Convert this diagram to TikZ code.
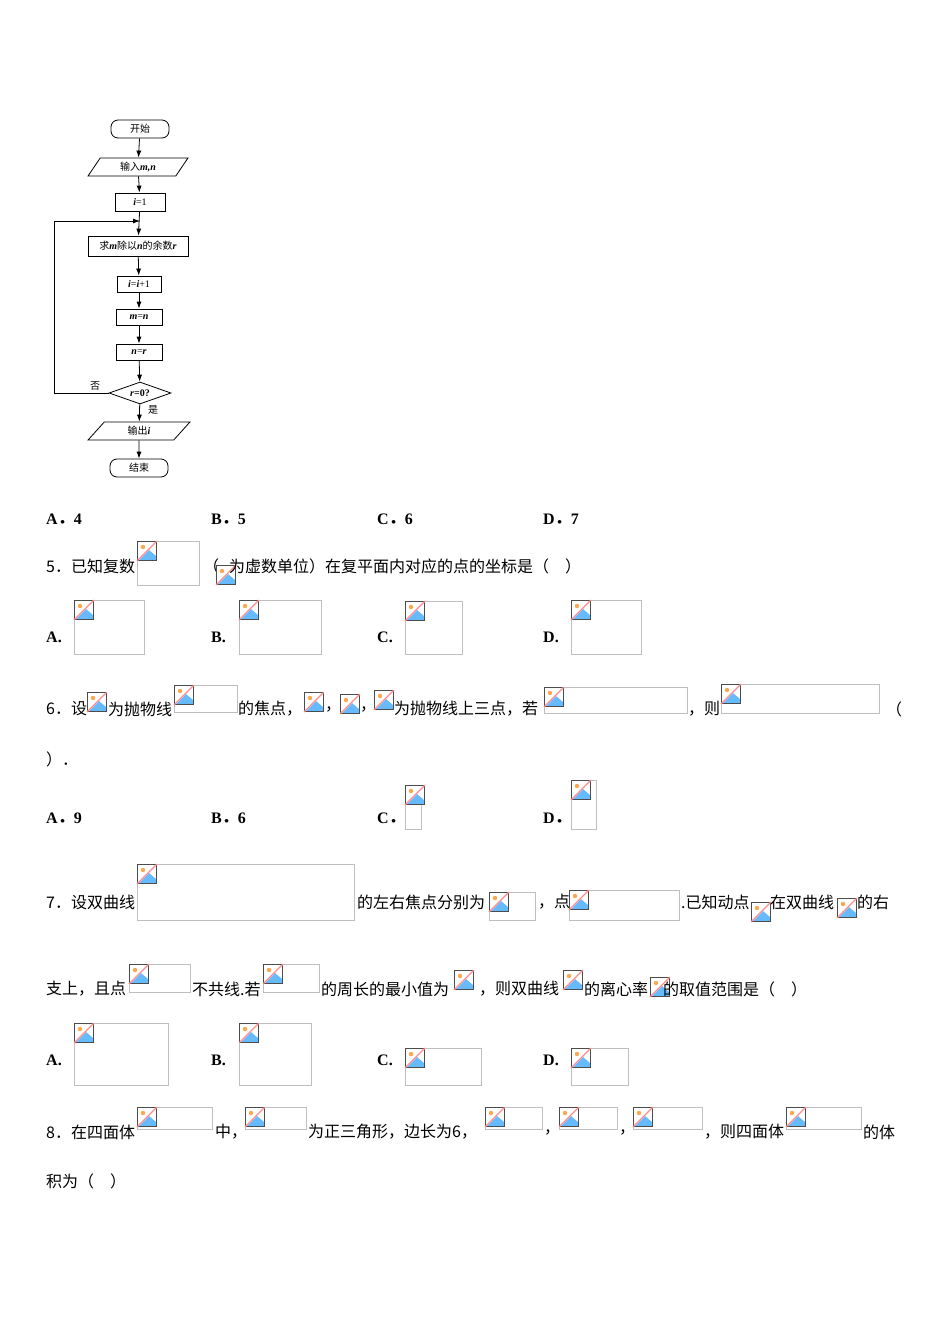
\documentclass[tikz,border=0pt]{standalone}
\usepackage{fontspec}
\setmainfont{Liberation Serif}
\newfontfamily\cjk{Noto Sans CJK SC}
\usetikzlibrary{shapes.geometric,arrows.meta}
\newcommand\mi[1]{{\rmfamily\bfseries\itshape #1}}
\newcommand\ico[2]{%
  \fill[white] (#1,#2) rectangle ++(20,20);
  \fill[blue!45!cyan!60] (#1+2,#2+19) -- (#1+12,#2+9) -- (#1+19,#2+15) -- (#1+19,#2+19) -- cycle;
  \fill[orange!70] (#1+6,#2+6) circle (2.2);
  \draw[black!70,line width=1pt] (#1+0.5,#2+0.5) rectangle ++(19,19);
  \draw[red!45,line width=1.3pt] (#1,#2+20) -- (#1+20,#2);}
\newcommand\imgbox[4]{%
  \draw[black!25,line width=0.8pt] (#1,#2) rectangle (#3,#4);
  \ico{#1}{#2}}
\newcommand\lab[1]{\textbf{#1}{\cjk ．}}
\begin{document}
\begin{tikzpicture}[x=1pt,y=-1pt,
  t/.style={anchor=west,inner sep=0pt,font=\fontsize{16}{18}\selectfont\cjk},
  opt/.style={anchor=west,inner sep=0pt,font=\fontsize{16}{18}\selectfont\bfseries},
  fc/.style={draw,line width=0.8pt,inner sep=0pt,font=\fontsize{10}{12}\selectfont\cjk},
  arr/.style={-{Latex[length=7pt,width=5pt]},line width=0.8pt}]
\useasboundingbox (0,0) rectangle (950,1344);
% flowchart
\node[fc,rounded corners=7pt,minimum width=58pt,minimum height=18pt] (s) at (140,129) {开始};
\node[fc,trapezium,trapezium left angle=60,trapezium right angle=120,minimum width=100pt,minimum height=18pt,trapezium stretches=true] (in) at (138,167) {输入\mi{m,n}};
\node[fc,minimum width=50pt,minimum height=18pt] (i1) at (140,202) {\mi{i}{\rmfamily =1}};
\node[fc,minimum width=100pt,minimum height=20pt] (r) at (138,246) {求\mi{m}除以\mi{n}的余数\mi{r}};
\node[fc,minimum width=44pt,minimum height=16pt] (ii) at (139,284) {\mi{i}{\rmfamily =}\mi{i}{\rmfamily +1}};
\node[fc,minimum width=46pt,minimum height=16pt] (mn) at (139,317) {\mi{m}{\rmfamily =}\mi{n}};
\node[fc,minimum width=46pt,minimum height=16pt] (nr) at (139,352) {\mi{n}{\rmfamily =}\mi{r}};
\node[fc,diamond,aspect=2.8,minimum width=62pt,minimum height=22pt] (d) at (140,393) {\mi{r}{\rmfamily\bfseries =0?}};
\node[fc,trapezium,trapezium left angle=60,trapezium right angle=120,minimum width=102pt,minimum height=18pt,trapezium stretches=true] (out) at (139,431) {输出\mi{i}};
\node[fc,rounded corners=7pt,minimum width=58pt,minimum height=18pt] (e) at (139,468) {结束};
\coordinate (lp) at (140,221);
\draw[arr] (s) -- (in);
\draw[arr] (in) -- (i1);
\draw[arr] (i1) -- (r);
\draw[arr] (r) -- (ii);
\draw[arr] (ii) -- (mn);
\draw[arr] (mn) -- (nr);
\draw[arr] (nr) -- (d);
\draw[arr] (d) -- (out);
\draw[arr] (out) -- (e);
\draw[arr] (d.west) -- (54,393) -- (54,221) -- (lp);
\node[font=\fontsize{10}{12}\selectfont\cjk] (no) at (95,386) {否};
\node[font=\fontsize{10}{12}\selectfont\cjk] (yes) at (153,410) {是};
% answers row
\node[opt] at (46,519) {\lab{A}4}; \node[opt] at (211,519) {\lab{B}5};
\node[opt] at (377,519) {\lab{C}6}; \node[opt] at (543,519) {\lab{D}7};
% Q5
\node[t] at (46,566) {5．已知复数};
\imgbox{137}{541}{199}{585}
\node[t] at (203,566) {（};
\ico{216}{565}
\node[t] at (229,566) {为虚数单位）在复平面内对应的点的坐标是（\quad ）};
\node[opt] at (46,637) {A.}; \imgbox{74}{600}{144}{654}
\node[opt] at (211,637) {B.}; \imgbox{239}{600}{321}{654}
\node[opt] at (377,637) {C.}; \imgbox{405}{601}{462}{654}
\node[opt] at (543,637) {D.}; \imgbox{571}{600}{641}{654}
% Q6
\node[t] at (46,709) {6．设};
\ico{87}{692}
\node[t] at (108,709) {为抛物线};
\imgbox{174}{685}{237}{712}
\node[t] at (238,709) {的焦点，};
\ico{304}{692} \node[t] at (325,709) {，};
\ico{340}{694} \node[t] at (360,709) {，};
\ico{374}{690}
\node[t] at (394,709) {为抛物线上三点，若};
\imgbox{544}{687}{687}{713}
\node[t] at (688,709) {，则};
\imgbox{721}{684}{879}{713}
\node[t] at (886,709) {（};
\node[t] at (46,759) {）．};
\node[opt] at (46,818) {\lab{A}9}; \node[opt] at (211,818) {\lab{B}6};
\node[opt] at (377,818) {\lab{C}}; \imgbox{405}{785}{421}{829}
\node[opt] at (543,818) {\lab{D}}; \imgbox{571}{780}{596}{829}
% Q7
\node[t] at (46,902) {7．设双曲线};
\imgbox{137}{864}{354}{920}
\node[t] at (357,902) {的左右焦点分别为};
\imgbox{489}{892}{535}{920}
\node[t] at (538,902) {，点};
\imgbox{569}{890}{679}{920}
\node[t] at (681,902) {.已知动点};
\ico{751}{902}
\node[t] at (770,902) {在双曲线};
\ico{837}{898}
\node[t] at (857,902) {的右};
\node[t] at (46,989) {支上，且点};
\imgbox{129}{964}{190}{992}
\node[t] at (192,989) {不共线.若};
\imgbox{263}{964}{319}{992}
\node[t] at (321,989) {的周长的最小值为};
\ico{454}{970}
\node[t] at (479,989) {，则双曲线};
\ico{563}{970}
\node[t] at (584,989) {的离心率};
\ico{650}{977}
\node[t] at (663,989) {的取值范围是（\quad ）};
\node[opt] at (46,1060) {A.}; \imgbox{74}{1023}{168}{1085}
\node[opt] at (211,1060) {B.}; \imgbox{239}{1023}{311}{1085}
\node[opt] at (377,1060) {C.}; \imgbox{405}{1048}{481}{1085}
\node[opt] at (543,1060) {D.}; \imgbox{571}{1048}{628}{1085}
% Q8
\node[t] at (46,1132) {8．在四面体};
\imgbox{137}{1107}{212}{1129}
\node[t] at (215,1132) {中，};
\imgbox{245}{1107}{306}{1129}
\node[t] at (308,1132) {为正三角形，边长为6，};
\imgbox{485}{1107}{542}{1129}
\node[t] at (544,1132) {，};
\imgbox{559}{1107}{617}{1129}
\node[t] at (619,1132) {，};
\imgbox{633}{1107}{702}{1129}
\node[t] at (704,1132) {，则四面体};
\imgbox{786}{1107}{861}{1129}
\node[t] at (863,1132) {的体};
\node[t] at (46,1181) {积为（\quad ）};
\end{tikzpicture}
\end{document}
